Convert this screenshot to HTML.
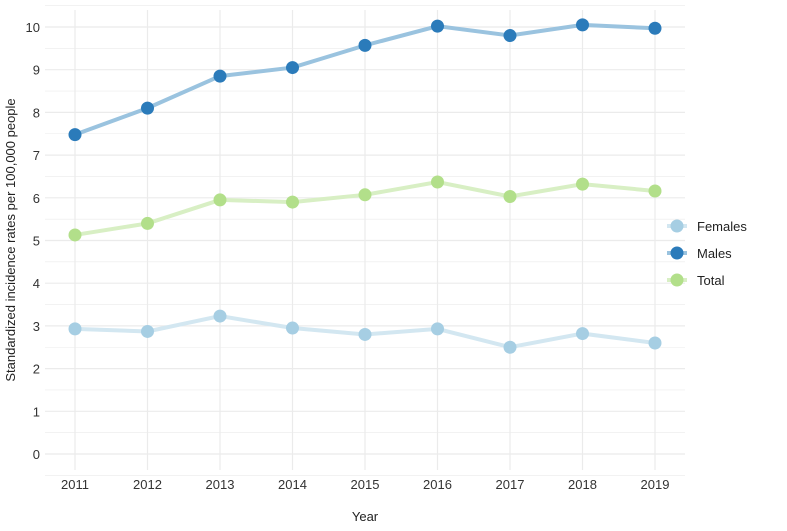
<!DOCTYPE html>
<html><head><meta charset="utf-8"><style>
body{margin:0;background:#fff;}
svg text{font-family:"Liberation Sans",sans-serif;}
</style></head><body>
<svg id="chart" width="787" height="526" xmlns="http://www.w3.org/2000/svg">
<g id="grid"></g><g id="series"></g><g id="axes"></g>
<text x="365" y="521" font-size="13" text-anchor="middle" fill="#222">Year</text>
<text transform="translate(15,240) rotate(-90)" font-size="13" text-anchor="middle" fill="#222">Standardized incidence rates per 100,000 people</text>
<g id="legend"></g>
</svg>
<script>
const years=[2011,2012,2013,2014,2015,2016,2017,2018,2019];
const males=[7.48,8.1,8.85,9.05,9.57,10.02,9.8,10.05,9.97];
const total=[5.13,5.4,5.95,5.9,6.07,6.37,6.03,6.32,6.16];
const females=[2.93,2.87,3.23,2.95,2.8,2.93,2.5,2.82,2.6];
const yTicks=[0,1,2,3,4,5,6,7,8,9,10];
const NS="http://www.w3.org/2000/svg";
const x=v=>75+(v-2011)*72.5;
const y=v=>454-v*42.7;
function mk(p,t,a){const e=document.createElementNS(NS,t);for(const k in a)e.setAttribute(k,a[k]);p.appendChild(e);return e;}
const grid=document.getElementById('grid'),axes=document.getElementById('axes'),ser=document.getElementById('series');
for(let v=-0.5;v<=10.5;v+=0.5){const l=mk(grid,'line',{x1:45,x2:685,y1:y(v),y2:y(v),stroke:'#ebebeb','stroke-width':Number.isInteger(v)?1.2:0.6});

}
years.forEach(yr=>{const l=mk(grid,'line',{x1:x(yr),x2:x(yr),y1:10,y2:470,stroke:'#ebebeb','stroke-width':1.2});


const t=mk(axes,'text',{x:x(yr),y:489,'font-size':13,'text-anchor':'middle',fill:'#333'});t.textContent=yr;

});
yTicks.forEach(v=>{const t=mk(axes,'text',{x:40,y:y(v)+5,'font-size':13,'text-anchor':'end',fill:'#333'});t.textContent=v;

});
const defs=[["females",females,"#d3e7f1","#a6cee3","Females"],["males",males,"#9ac3df","#2b7bba","Males"],["total",total,"#d8efc4","#b2df8a","Total"]];
defs.forEach(([n,d,lc,pc,label],i)=>{
const p=mk(ser,'polyline',{points:d.map((v,j)=>x(years[j])+','+y(v)).join(' '),fill:'none',stroke:lc,'stroke-width':4});


d.forEach((v,j)=>{const c=mk(ser,'circle',{cx:x(years[j]),cy:y(v),r:6.5,fill:pc});

});
const lg=document.getElementById('legend'),ly=226+i*27;
const ll=mk(lg,'line',{x1:667,x2:687,y1:ly,y2:ly,stroke:lc,'stroke-width':4});


const lp=mk(lg,'circle',{cx:677,cy:ly,r:6.5,fill:pc});


const lt=mk(lg,'text',{x:697,y:ly+5,'font-size':13,fill:'#222'});lt.textContent=label;


});
</script>
</body></html>
